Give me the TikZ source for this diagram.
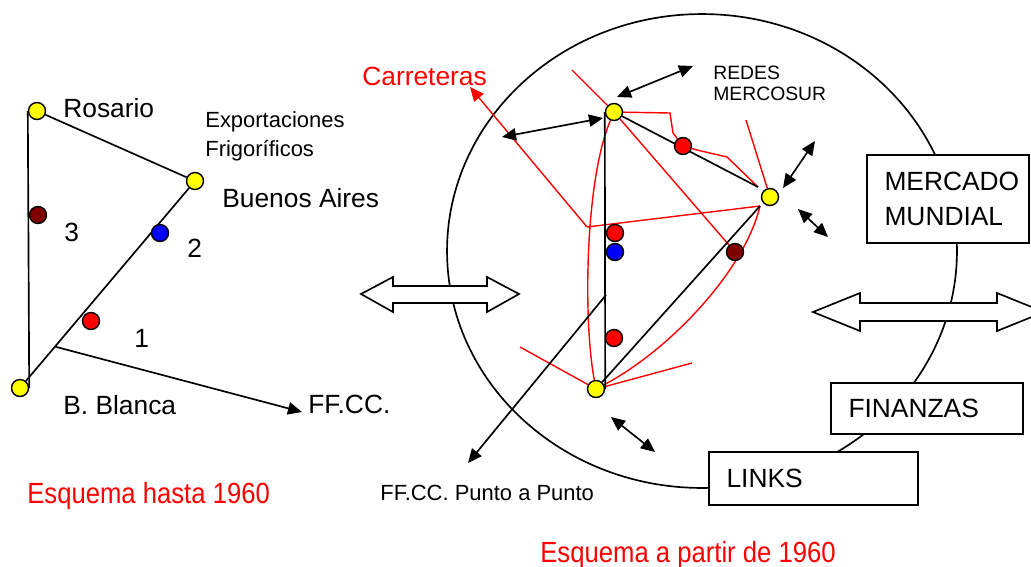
\documentclass[tikz,border=0pt]{standalone}
\usepackage{fontspec}
\setmainfont{Liberation Sans}
\newfontfamily\narrowfont[FakeStretch=0.88]{Liberation Sans}
\usetikzlibrary{calc,arrows.meta}
\definecolor{MapYellow}{RGB}{255,255,0}
\definecolor{MapRed}{RGB}{255,0,0}
\definecolor{MapBlue}{RGB}{0,0,255}
\definecolor{MapMaroon}{RGB}{128,0,0}

\begin{document}
\begin{tikzpicture}[x=0.02cm, y=-0.02cm]
      \tikzstyle{city}=[draw, thick, fill=MapYellow, circle, minimum size=0.34cm, inner sep=0];
      \tikzstyle{stop}=[draw, thick, circle, minimum size=0.34cm, inner sep=0];
      \tikzstyle{rail}=[line width=0.95pt];
      \tikzstyle{road}=[line width=0.8pt, MapRed];
      \tikzstyle{link}=[line width=0.95pt, arrows={Triangle[length=8pt,width=7pt]-Triangle[length=8pt,width=7pt]}];
      \tikzstyle{tip}=[arrows={-Triangle[length=8pt,width=7pt]}];

      \tikzstyle{txtbig}=[inner sep=0, anchor=base west, font=\fontsize{15}{19.8}\selectfont];
      \tikzstyle{txtsmall}=[inner sep=0, anchor=base west, font=\fontsize{12.5}{15}\selectfont];
      \tikzstyle{txttiny}=[inner sep=0, anchor=base west, font=\fontsize{11}{13}\selectfont];
      \tikzstyle{txttitle}=[inner sep=0, anchor=base west, MapRed, font=\narrowfont\fontsize{16.6}{19}\selectfont];
      \tikzstyle{market}=[draw, line width=0.95pt, fill=white, inner xsep=0.35cm, align=left, font=\fontsize{15}{19.8}\selectfont];
      \tikzstyle{bigarrow}=[draw, line width=0.95pt, fill=white];

      \pgfdeclarelayer{foreground}
      \pgfdeclarelayer{background}
      \pgfsetlayers{background,%
        main,%
        foreground%
      }

      \useasboundingbox (0,0) rectangle (1031,566);

      \begin{pgfonlayer}{foreground}
        % hasta 1960
        \node[city] (ros) at (37,111) {};
        \node[city] (ba) at (195,181) {};
        \node[city] (bb) at (20,388) {};
        \node[stop, fill=MapMaroon] (s3) at (38,215) {};
        \node[stop, fill=MapBlue] (s2) at (160,233) {};
        \node[stop, fill=MapRed] (s1) at (91,321) {};

        % a partir de 1960
        \node[city] (y1) at (614,112) {};
        \node[city] (y2) at (770,197) {};
        \node[city] (y3) at (596,389) {};
        \node[stop, fill=MapRed] (r1) at (683,146) {};
        \node[stop, fill=MapRed] (r2) at (615,233) {};
        \node[stop, fill=MapBlue] (b1) at (615,252) {};
        \node[stop, fill=MapMaroon] (dr) at (735,252) {};
        \node[stop, fill=MapRed] (r3) at (614,338) {};
      \end{pgfonlayer}

      \begin{pgfonlayer}{background}
        \draw[rail] (702,251) ellipse [x radius=5.1cm, y radius=4.74cm];
      \end{pgfonlayer}

      \draw[rail] (ros.west) -- (bb.east);
      \draw[rail] (ros) -- (ba);
      \draw[rail] (ba) -- (bb);
      \coordinate (ffcc) at ($(ba)!0.8!(bb)$);
      \coordinate (ffcctip) at (302,412);
      \draw[rail, tip] (ffcc) -- (ffcctip);

      \node[txtbig] (rosario) at (63,117) {Rosario};
      \node[txtsmall] (export) at (205,127) {Exportaciones};
      \node[txtsmall] (frigo) at (205,156) {Frigoríficos};
      \node[txtbig] (bsas) at (222,207) {Buenos Aires};
      \node[txtbig] (n3) at (64,241) {3};
      \node[txtbig] (n2) at (187,257) {2};
      \node[txtbig] (n1) at (134,347) {1};
      \node[txtbig] (bblanca) at (63,414) {B. Blanca};
      \node[txtbig] (ffcclbl) at (308,413) {FF.CC.};
      \node[txttitle] (hasta) at (27,503) {Esquema hasta 1960};

      \draw[bigarrow] (361,294) -- (393,277) -- (393,286) -- (487,286) -- (487,277) -- (519,294)
        -- (487,312) -- (487,303) -- (393,303) -- (393,312) -- cycle;

      % red roads
      \coordinate (rj) at (587,227);
      \coordinate (carrtip) at (470,87);
      \coordinate (y2w) at (760,206);
      \draw[road, tip] (rj) -- (carrtip);
      \draw[road] (rj) -- (y2w);
      \draw[road] (572,70) -- (y1);
      \draw[road] (y1) .. controls (585,180) and (583,320) .. (y3);
      \draw[road] (520,347) -- (y3);
      \draw[road] (y3) -- (692,363);
      \draw[road] (y3) .. controls (670,350) and (745,270) .. (y2w);
      \draw[road] (y1) -- (dr);
      \coordinate (y2nw) at (758,187);
      \draw[road] (y1) -- (670,113) -- (673,133) -- (r1) -- (697,150) -- (727,157) -- (y2nw);
      \draw[road] (746,120) -- (y2);

      % black lines
      \draw[rail] (y1.west) -- (y3.east);
      \draw[rail] (y1) -- (y2nw);
      \draw[rail] (y3) -- (y2w);
      \coordinate (pp) at (606,295);
      \coordinate (pptip) at (468,463);
      \draw[rail, tip] (pp) -- (pptip);

      \draw[link] (617,97) -- (693,66);
      \draw[link] (502,137) -- (603,118);
      \draw[link] (783,188) -- (815,141);
      \draw[link] (798,209) -- (828,237);
      \draw[link] (611,417) -- (655,452);

      \node[txtbig, MapRed] (carr) at (362,85) {Carreteras};
      \node[txttiny] (redes) at (713,79) {REDES};
      \node[txttiny] (mercosur) at (713,100) {MERCOSUR};
      \node[txtsmall] (pplbl) at (380,500) {FF.CC. Punto a Punto};
      \node[txttitle] (partir) at (540,562) {Esquema a partir de 1960};

      \draw[bigarrow] (813,312) -- (860,293) -- (860,303) -- (997,303) -- (997,293) -- (1044,312)
        -- (997,331) -- (997,321) -- (860,321) -- (860,331) -- cycle;

      \node[market, minimum width=3.24cm, minimum height=1.76cm, text width=2.54cm] (mercado) at (948,199) {MERCADO\\MUNDIAL};
      \node[market, minimum width=3.84cm, minimum height=1.02cm, text width=3.14cm] (finanzas) at (927,408.5) {FINANZAS};
      \node[market, minimum width=4.18cm, minimum height=1.06cm, text width=3.48cm] (links) at (813.5,478.5) {LINKS};
\end{tikzpicture}
\end{document}
